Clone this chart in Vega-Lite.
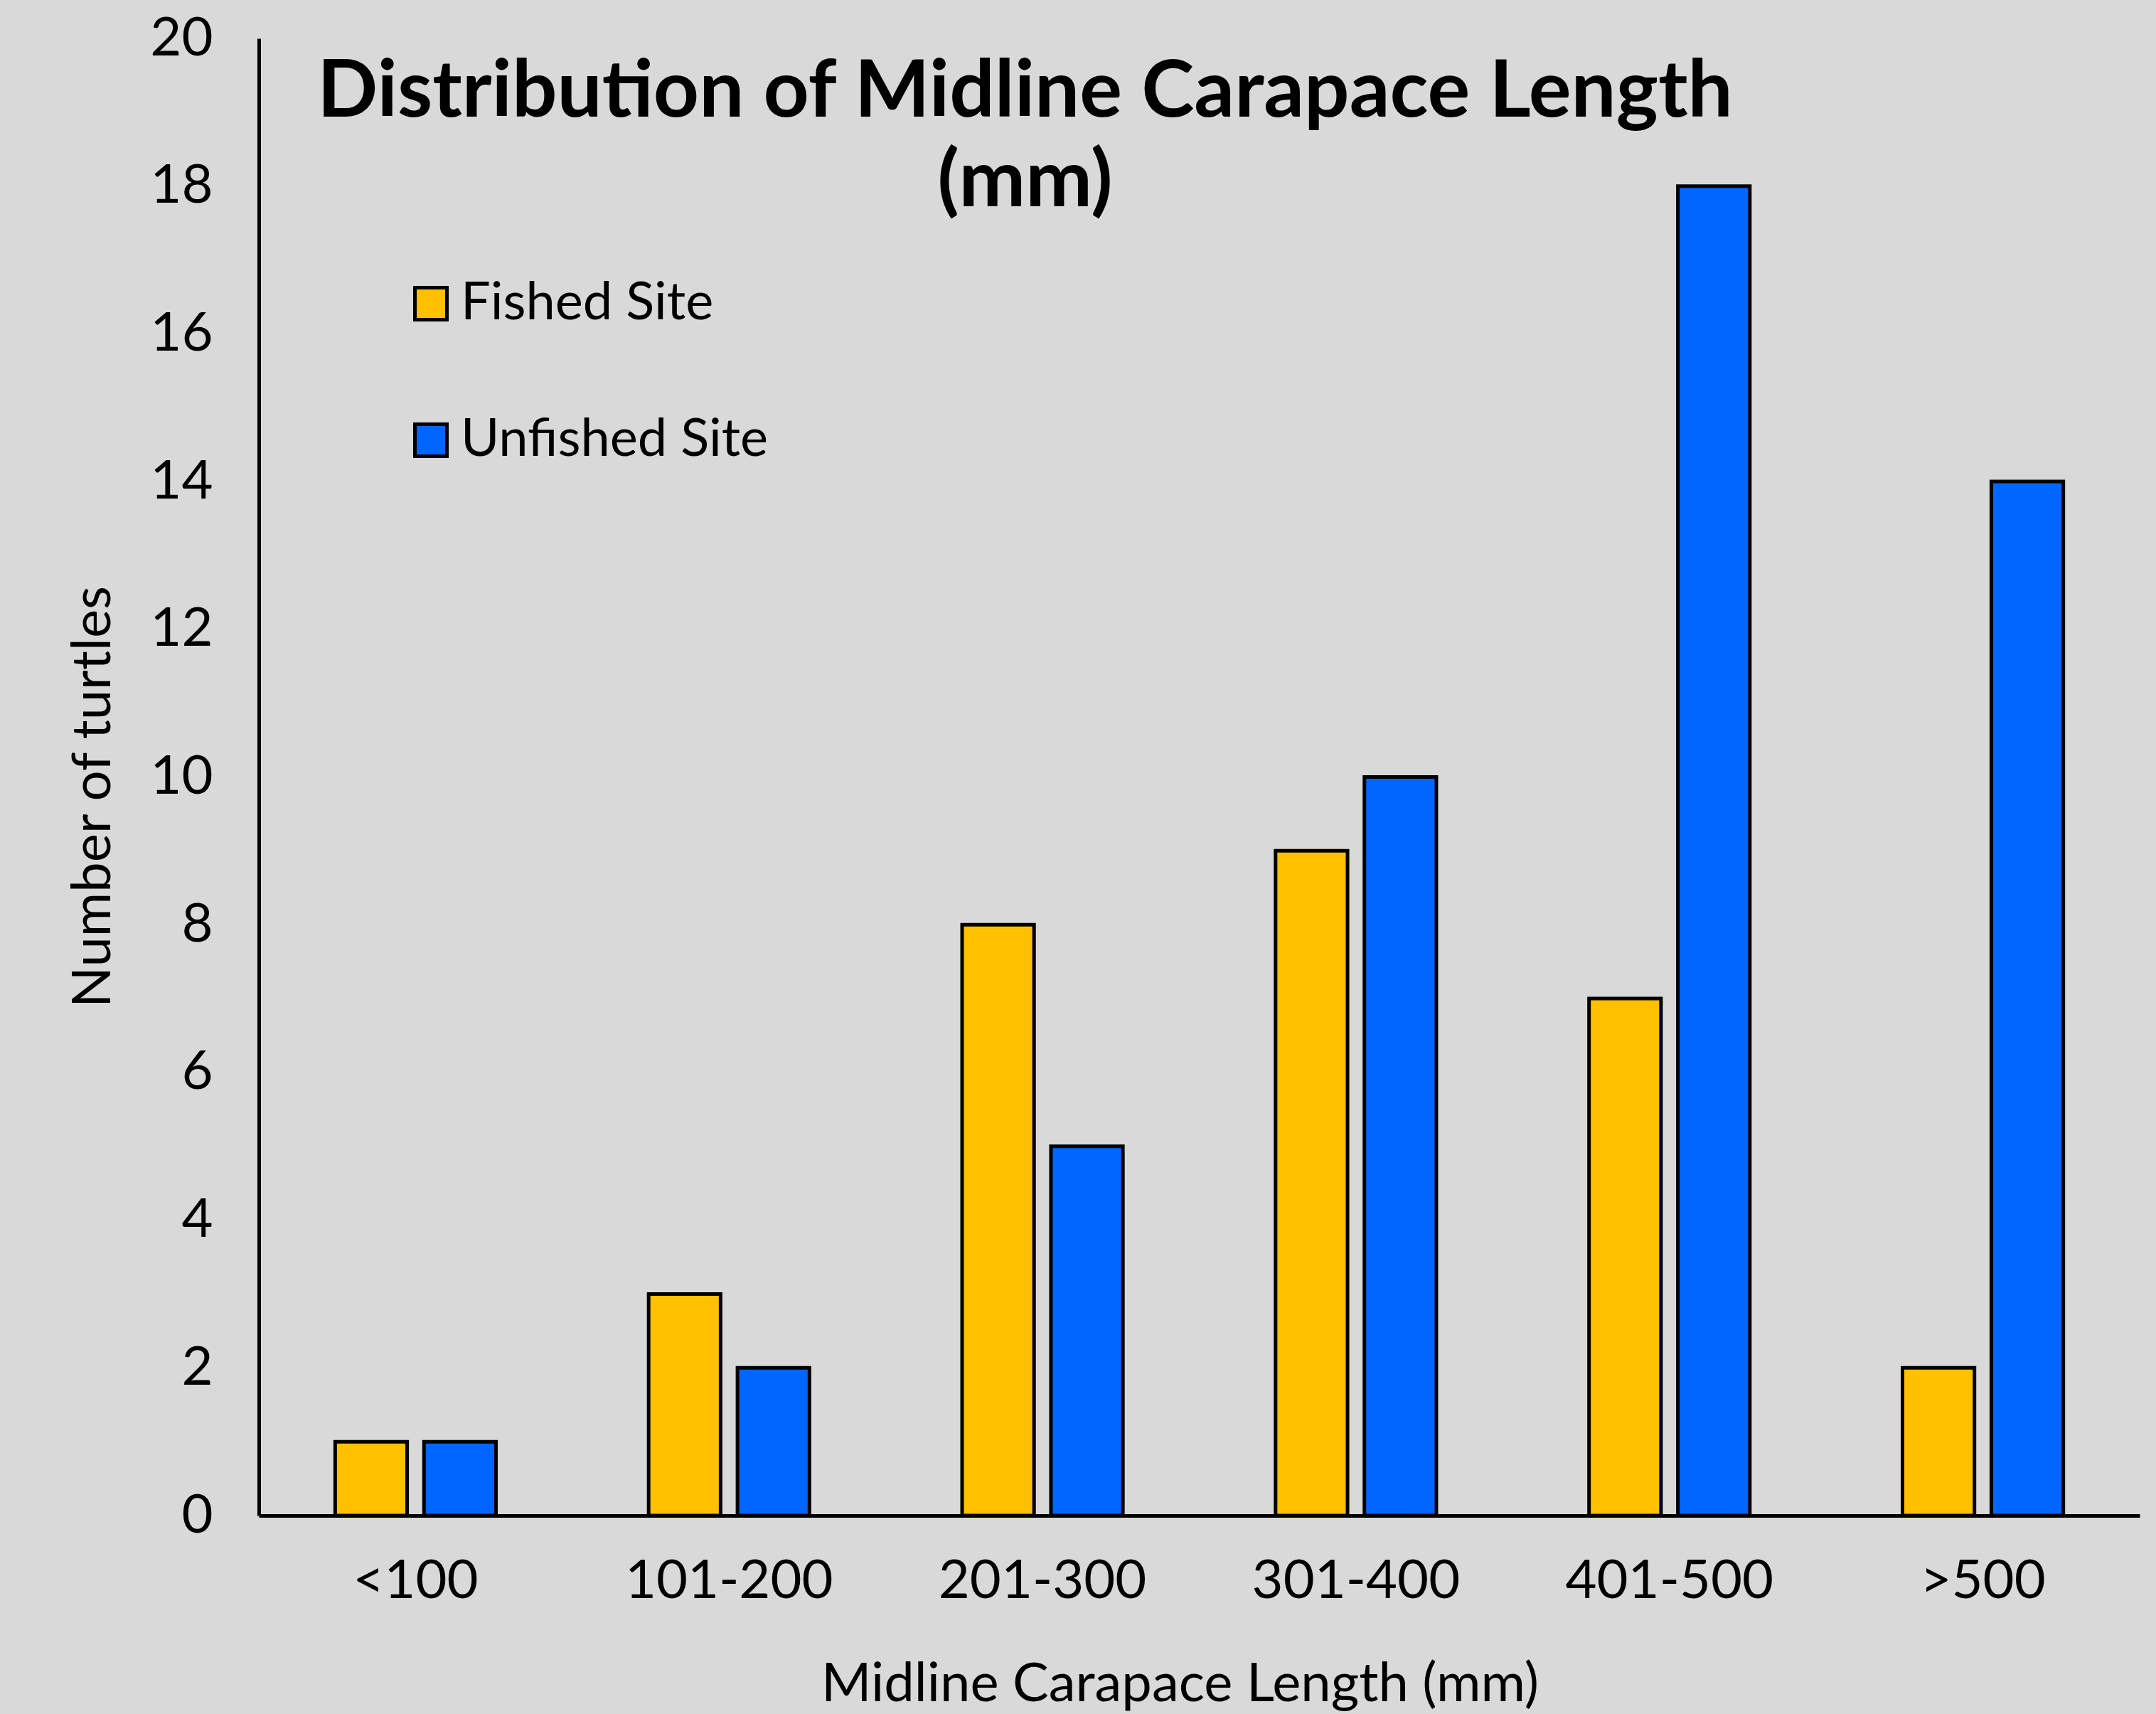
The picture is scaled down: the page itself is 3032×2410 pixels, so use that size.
{
  "$schema": "https://vega.github.io/schema/vega-lite/v6.json",
  "width": 2645,
  "height": 2077,
  "autosize": {"type": "none"},
  "padding": {"left": 364, "top": 54, "right": 23, "bottom": 279},
  "background": "#D9D9D9",
  "config": {"view": {"stroke": null}, "font": "Lato"},
  "title": {
    "text": ["Distribution of Midline Carapace Length", "(mm)"],
    "fontSize": 112,
    "fontWeight": "bold",
    "font": "Lato",
    "color": "black",
    "anchor": "middle",
    "frame": "group",
    "dx": -245,
    "dy": 298,
    "lineHeight": 126,
    "offset": 0
  },
  "data": {
    "values": [
      {"size": "<100", "site": "Fished Site", "count": 1},
      {"size": "<100", "site": "Unfished Site", "count": 1},
      {"size": "101-200", "site": "Fished Site", "count": 3},
      {"size": "101-200", "site": "Unfished Site", "count": 2},
      {"size": "201-300", "site": "Fished Site", "count": 8},
      {"size": "201-300", "site": "Unfished Site", "count": 5},
      {"size": "301-400", "site": "Fished Site", "count": 9},
      {"size": "301-400", "site": "Unfished Site", "count": 10},
      {"size": "401-500", "site": "Fished Site", "count": 7},
      {"size": "401-500", "site": "Unfished Site", "count": 18},
      {"size": ">500", "site": "Fished Site", "count": 2},
      {"size": ">500", "site": "Unfished Site", "count": 14}
    ]
  },
  "mark": {"type": "bar", "stroke": "black", "strokeWidth": 5},
  "encoding": {
    "x": {
      "field": "size",
      "type": "nominal",
      "sort": ["<100", "101-200", "201-300", "301-400", "401-500", ">500"],
      "scale": {"paddingInner": 0.487, "paddingOuter": 0.2435},
      "axis": {
        "title": "Midline Carapace Length (mm)",
        "titleFontSize": 76,
        "titleFontWeight": "normal",
        "titleColor": "black",
        "titlePadding": 70,
        "titleX": 1295,
        "labelFontSize": 76,
        "labelColor": "black",
        "labelAngle": 0,
        "labelPadding": 55,
        "labelLimit": 0,
        "ticks": false,
        "grid": false,
        "domainColor": "black",
        "domainWidth": 5
      }
    },
    "xOffset": {
      "field": "site",
      "sort": ["Fished Site", "Unfished Site"],
      "scale": {"paddingInner": 0.19, "paddingOuter": 0}
    },
    "y": {
      "field": "count",
      "type": "quantitative",
      "scale": {"domain": [0, 20], "nice": false},
      "axis": {
        "title": "Number of turtles",
        "titleFontSize": 76,
        "titleFontWeight": "normal",
        "titleColor": "black",
        "titlePadding": 40,
        "titleY": 1066,
        "labelFontSize": 76,
        "labelColor": "black",
        "labelPadding": 65,
        "values": [0, 2, 4, 6, 8, 10, 12, 14, 16, 18, 20],
        "ticks": false,
        "grid": false,
        "domainColor": "black",
        "domainWidth": 5
      }
    },
    "color": {
      "field": "site",
      "type": "nominal",
      "scale": {"domain": ["Fished Site", "Unfished Site"], "range": ["#FFC000", "#0066FF"]},
      "legend": {
        "orient": "none",
        "legendX": 205,
        "legendY": 336,
        "title": null,
        "direction": "vertical",
        "labelFontSize": 74,
        "labelColor": "black",
        "labelLimit": 0,
        "symbolType": "square",
        "symbolSize": 2025,
        "symbolStrokeColor": "black",
        "symbolStrokeWidth": 5,
        "rowPadding": 118,
        "labelOffset": 5
      }
    }
  }
}
